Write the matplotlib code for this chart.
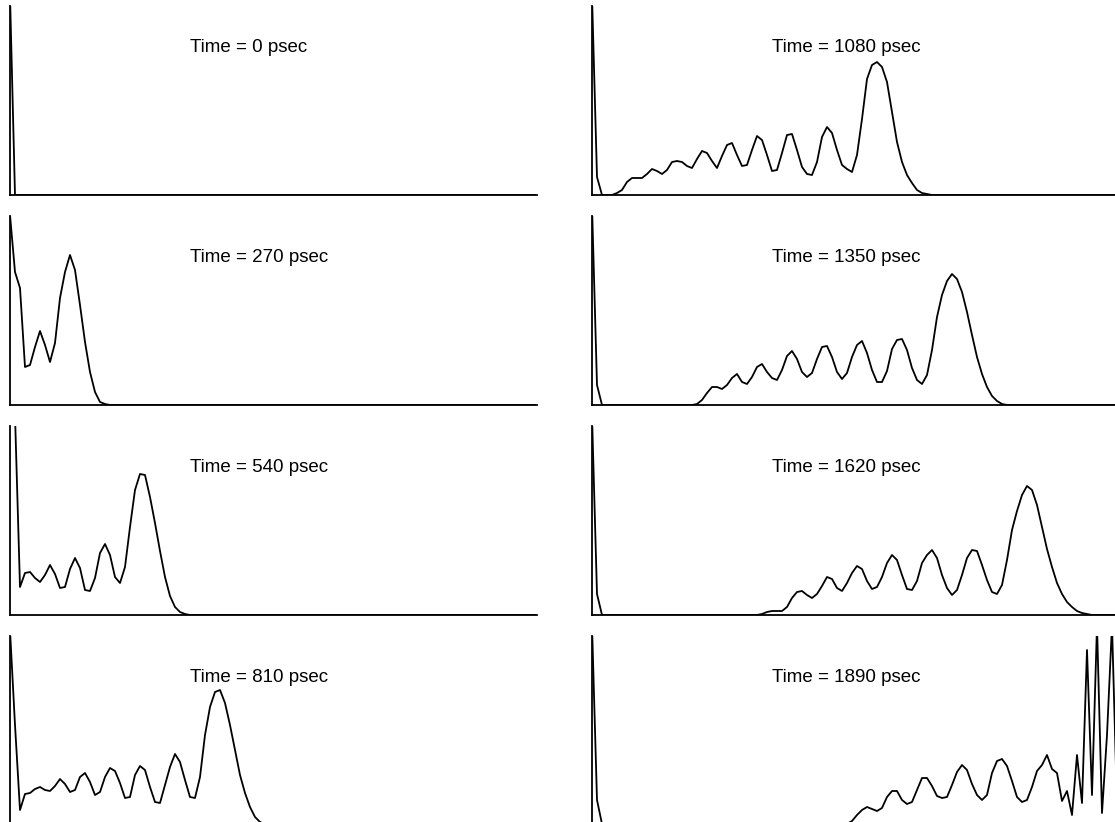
import matplotlib
matplotlib.use("Agg")
import matplotlib.pyplot as plt

# pulse amplitude along the line, one sample per grid point (arbitrary units)
times = [0, 270, 540, 810, 1080, 1350, 1620, 1890]

amp_0 = [200, 0]
amp_270 = [190, 133, 117, 38, 40, 58, 74, 60, 43, 62, 107, 133, 150, 135, 100,
           63, 33, 13, 3, 1, 0]
amp_540 = [200, 200, 28, 42, 43, 37, 33, 40, 50, 41, 27, 28, 46, 57, 47, 25, 24,
           37, 62, 71, 60, 38, 32, 48, 88, 125, 141, 140, 118, 92, 64, 38, 19, 8,
           3, 1, 0]
amp_810 = [195, 100, 15, 31, 32, 36, 38, 35, 34, 39, 46, 41, 33, 35, 48, 52, 43,
           30, 33, 48, 57, 54, 42, 27, 28, 50, 59, 55, 38, 23, 22, 40, 58, 71, 63,
           45, 28, 27, 48, 90, 118, 133, 135, 122, 100, 75, 50, 32, 18, 8, 3, 1, 0]
amp_1080 = [200, 18, 0, 0, 0, 2, 5, 13, 17, 17, 17, 21, 26, 24, 21, 25, 33, 34,
            33, 29, 27, 36, 44, 42, 34, 27, 39, 50, 52, 40, 29, 30, 45, 59, 55, 40,
            24, 25, 42, 60, 61, 45, 28, 21, 20, 33, 58, 68, 62, 45, 30, 26, 23, 40,
            76, 116, 130, 133, 128, 113, 83, 53, 33, 20, 12, 5, 2, 1, 0]
amp_1350 = ([200, 20] + [0] * 19 +
            [1, 5, 12, 18, 18, 16, 20, 27, 31, 23, 21, 28, 38, 41, 33, 27, 25, 35,
             49, 54, 46, 33, 28, 32, 46, 58, 59, 48, 33, 26, 32, 48, 60, 64, 52, 35,
             23, 23, 34, 56, 65, 66, 55, 37, 25, 21, 30, 55, 88, 110, 124, 131, 126,
             113, 93, 70, 48, 31, 18, 9, 4, 1, 0])
amp_1620 = ([200, 21] + [0] * 32 +
            [1, 3, 4, 4, 4, 8, 17, 23, 24, 20, 17, 21, 29, 38, 36, 27, 24, 32, 42,
             49, 46, 34, 26, 28, 38, 52, 60, 55, 40, 26, 25, 34, 52, 60, 65, 57, 40,
             27, 20, 25, 40, 57, 65, 64, 50, 35, 23, 21, 30, 55, 85, 104, 120, 129,
             125, 110, 88, 66, 48, 32, 21, 13, 8, 4, 2, 1, 0])
amp_1890 = ([200, 25, 1] + [0] * 48 +
            [1, 4, 10, 15, 18, 16, 14, 17, 28, 34, 34, 25, 21, 23, 35, 47, 47, 39,
             29, 27, 28, 40, 53, 60, 55, 41, 30, 25, 30, 52, 64, 66, 59, 44, 28, 23,
             25, 38, 54, 60, 70, 56, 52, 24, 34, 10, 70, 22, 175, 30, 200, 12, 90,
             200, 20])

amps = [amp_0, amp_270, amp_540, amp_810, amp_1080, amp_1350, amp_1620, amp_1890]

n_pts = 106
W, H = 1115, 822

fig = plt.figure(figsize=(W / 100, H / 100), dpi=100)

col_left = [10, 592]
row_bottom = [195, 405, 615, 825]
ax_w, ax_h = 527, 189

for k, (t, a) in enumerate(zip(times, amps)):
    col, row = divmod(k, 4)
    x0 = col_left[col]
    y0 = row_bottom[row]
    ax = fig.add_axes([x0 / W, (H - y0) / H, ax_w / W, ax_h / H])

    y = list(a) + [0] * (n_pts - len(a))
    ax.plot(range(n_pts), y[:n_pts], color="black", lw=1.3)
    ax.set_xlim(0, ax_w / 5)
    ax.set_ylim(0, ax_h)

    for s in ["top", "right"]:
        ax.spines[s].set_visible(False)
    for s in ["left", "bottom"]:
        ax.spines[s].set_linewidth(1.3)
        ax.spines[s].set_color("black")
    ax.set_xticks([])
    ax.set_yticks([])
    ax.patch.set_alpha(0)

    ax.text(0.342, 0.783, "Time = %d psec" % t, transform=ax.transAxes,
            ha="left", va="center", fontsize=13.5, family="Liberation Sans")

fig.savefig("out.png", dpi=100)
